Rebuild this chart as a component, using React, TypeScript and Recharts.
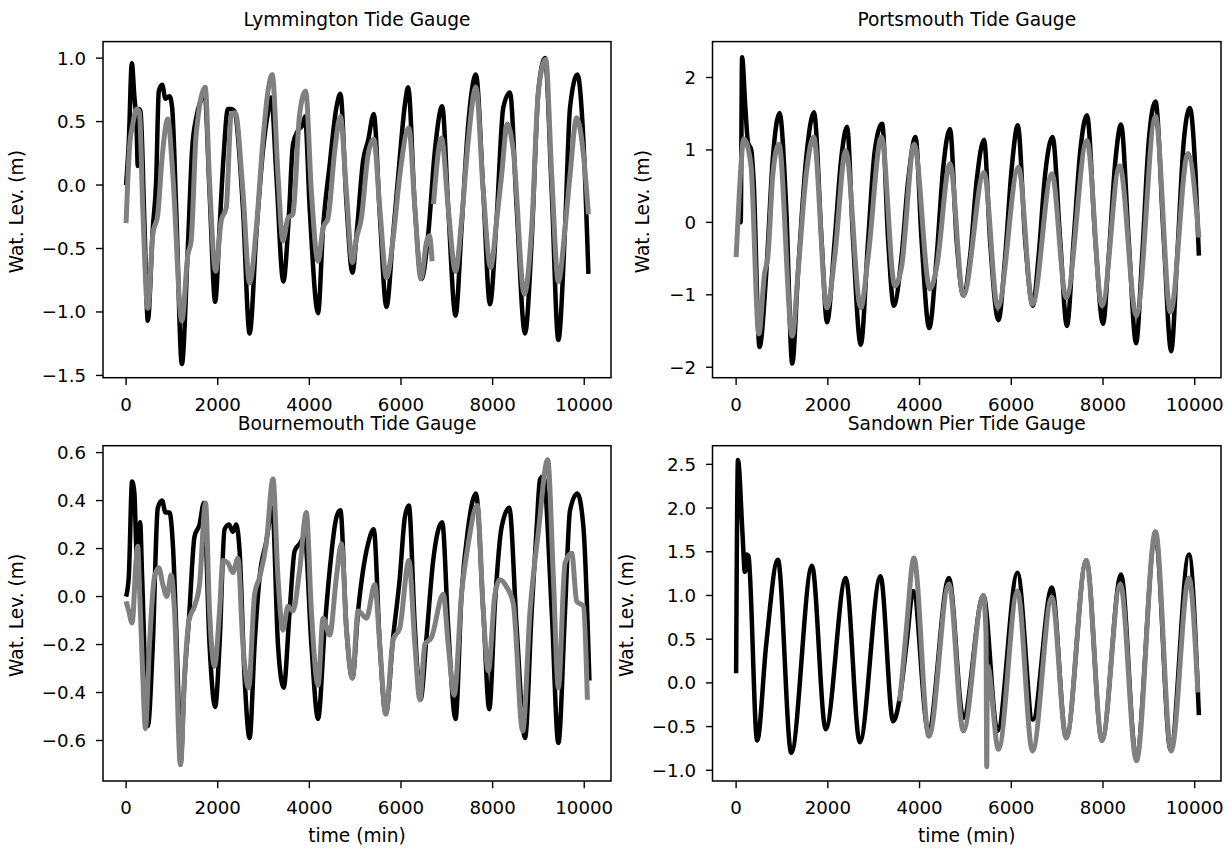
import React from 'react';
import { LineChart, Line, XAxis, YAxis } from 'recharts';

// [time (min), water level (m)] pairs; null = gap in the record
type Pt = [number, number | null];

const X_TICKS = [0, 2000, 4000, 6000, 8000, 10000];
const X_DOMAIN: [number, number] = [-504, 10584];

const TITLES = [
  'Lymmington Tide Gauge',
  'Portsmouth Tide Gauge',
  'Bournemouth Tide Gauge',
  'Sandown Pier Tide Gauge',
];

const LYM_TICKS = [-1.5, -1.0, -0.5, 0, 0.5, 1.0];
const PORT_TICKS = [-2, -1, 0, 1, 2];
const BOURNE_TICKS = [-0.6, -0.4, -0.2, 0, 0.2, 0.4, 0.6];
const SAND_TICKS = [-1.0, -0.5, 0, 0.5, 1.0, 1.5, 2.0, 2.5];

const lymBlack: Pt[] = [
  [0, 0.0], [60, 0.35], [125, 0.96], [180, 0.7], [230, 0.45], [255, 0.15], [280, 0.6], [315, 0.58],
  [400, -0.3], [474, -1.07], [583, -0.34], [656, 0.03], [714, 0.74], [787, 0.79], [860, 0.68],
  [947, 0.7], [1005, 0.61], [1093, -0.18], [1217, -1.41], [1348, -0.49], [1443, 0.29], [1530, 0.53],
  [1654, 0.69], [1712, 0.74], [1821, -0.05], [1945, -0.92], [2040, -0.34], [2127, 0.22], [2222, 0.6],
  [2295, 0.6], [2368, 0.58], [2550, -0.18], [2696, -1.17], [2842, -0.39], [2987, 0.27], [3097, 0.57],
  [3169, 0.69], [3279, 0.08], [3432, -0.76], [3555, -0.23], [3642, 0.32], [3752, 0.43], [3861, 0.48],
  [3905, 0.54], [4007, -0.18], [4190, -1.01], [4299, -0.34], [4444, 0.16], [4590, 0.61], [4677, 0.72],
  [4808, -0.13], [4940, -0.69], [5042, -0.34], [5173, 0.19], [5282, 0.35], [5406, 0.56], [5537, -0.23],
  [5683, -0.96], [5829, -0.39], [5975, 0.22], [6084, 0.63], [6157, 0.77], [6303, -0.18], [6448, -0.74],
  [6594, -0.39], [6740, 0.27], [6900, 0.62], [7031, -0.18], [7191, -1.03], [7322, -0.34], [7468, 0.48],
  [7636, 0.87], [7796, -0.05], [7942, -0.94], [8088, -0.26], [8233, 0.61], [8379, 0.73], [8525, -0.18],
  [8707, -1.17], [8853, -0.44], [8999, 0.74], [9144, 1.0], [9290, -0.05], [9435, -1.22], [9581, -0.34],
  [9690, 0.61], [9851, 0.87], [9982, 0.35], [10091, -0.7],
];

const lymGrey: Pt[] = [
  [0, -0.3], [73, 0.29], [146, 0.48], [233, 0.6], [291, 0.57], [364, -0.18], [474, -0.97], [583, -0.39],
  [692, -0.23], [787, 0.22], [911, 0.52], [1020, 0.08], [1217, -1.07], [1348, -0.55], [1420, -0.44],
  [1530, 0.4], [1727, 0.77], [1821, 0.03], [1953, -0.68], [2077, -0.28], [2186, -0.18], [2295, 0.56],
  [2383, 0.57], [2550, -0.05], [2696, -0.77], [2842, -0.34], [2987, 0.35], [3097, 0.74], [3191, 0.87],
  [3315, 0.08], [3424, -0.44], [3533, -0.26], [3642, -0.23], [3788, 0.56], [3920, 0.74], [4044, -0.05],
  [4190, -0.6], [4299, -0.34], [4408, -0.26], [4554, 0.27], [4677, 0.54], [4808, -0.05], [4940, -0.61],
  [5027, -0.42], [5136, -0.26], [5282, 0.24], [5406, 0.36], [5537, -0.18], [5683, -0.73], [5829, -0.42],
  [5975, 0.08], [6171, 0.45], [6303, -0.18], [6434, -0.74], [6557, -0.45], [6620, -0.4], [6680, -0.6],
  [6695, null], [6710, -0.15], [6885, 0.37], [7031, -0.18], [7191, -0.68], [7322, -0.28], [7468, 0.35],
  [7636, 0.77], [7796, -0.05], [7957, -0.65], [8088, -0.28], [8197, 0.08], [8321, 0.48], [8452, 0.27],
  [8692, -0.86], [8853, -0.34], [8999, 0.74], [9159, 0.99], [9290, 0.08], [9435, -0.76], [9581, -0.34],
  [9690, 0.08], [9836, 0.53], [9982, 0.24], [10091, -0.23],
];

const portBlack: Pt[] = [
  [0, 0.0], [100, 0.0], [130, 2.28], [200, 1.6], [260, 1.1], [330, 1.0], [380, 0.6], [510, -1.72],
  [656, -0.71], [802, 0.9], [947, 1.51], [1093, 0.2], [1224, -1.95], [1348, -0.71], [1530, 0.9],
  [1698, 1.52], [1864, -0.25], [1982, -1.38], [2149, -0.25], [2295, 0.9], [2419, 1.32], [2550, -0.25],
  [2718, -1.69], [2878, -0.25], [3024, 0.99], [3184, 1.36], [3315, -0.25], [3439, -1.15], [3606, -0.48],
  [3752, 0.58], [3912, 1.18], [4044, -0.25], [4211, -1.46], [4372, -0.48], [4517, 0.76], [4663, 1.29],
  [4808, -0.25], [4954, -1.01], [5100, -0.48], [5246, 0.58], [5406, 1.14], [5537, -0.25], [5720, -1.35],
  [5866, -0.48], [6011, 0.76], [6142, 1.34], [6303, -0.25], [6470, -1.15], [6594, -0.48], [6740, 0.67],
  [6900, 1.18], [7067, -0.25], [7213, -1.43], [7359, -0.25], [7505, 0.99], [7650, 1.48], [7833, -0.25],
  [8000, -1.4], [8124, -0.48], [8270, 0.85], [8393, 1.35], [8561, -0.25], [8721, -1.67], [8853, -0.48],
  [8999, 1.13], [9144, 1.67], [9326, -0.25], [9487, -1.78], [9617, -0.48], [9763, 1.13], [9894, 1.58],
  [10018, 0.67], [10091, -0.46],
];

const portGrey: Pt[] = [
  [0, -0.48], [73, 0.44], [168, 1.15], [255, 1.04], [328, 0.76], [495, -1.54], [619, -0.71], [692, -0.48],
  [802, 0.67], [933, 1.08], [1224, -1.57], [1348, -0.71], [1530, 0.67], [1690, 1.18], [1982, -1.18],
  [2149, -0.48], [2390, 0.99], [2718, -1.18], [2878, -0.48], [3170, 1.18], [3461, -0.88], [3606, -0.62],
  [3883, 1.08], [4226, -0.92], [4372, -0.62], [4663, 0.81], [4954, -1.01], [5406, 0.69], [5705, -1.17],
  [6157, 0.76], [6463, -1.13], [6885, 0.67], [7198, -1.04], [7650, 1.13], [7978, -1.15], [8364, 0.78],
  [8729, -1.29], [9144, 1.46], [9472, -1.24], [9851, 0.95], [10091, -0.21],
];

const bourneBlack: Pt[] = [
  [0, 0.0], [58, 0.08], [131, 0.48], [182, 0.43], [219, 0.22], [255, 0.14], [306, 0.31], [350, 0.08],
  [474, -0.54], [583, -0.2], [692, 0.37], [787, 0.4], [860, 0.35], [947, 0.35], [1020, 0.22],
  [1129, -0.34], [1188, -0.7], [1275, -0.34], [1370, -0.1], [1494, 0.25], [1603, 0.3], [1698, 0.39],
  [1821, -0.2], [1945, -0.46], [2040, -0.2], [2149, 0.28], [2244, 0.3], [2332, 0.27], [2404, 0.3],
  [2477, 0.19], [2587, -0.34], [2696, -0.59], [2805, -0.2], [2914, 0.08], [3060, 0.23], [3191, 0.37],
  [3315, -0.2], [3439, -0.38], [3570, -0.06], [3679, 0.19], [3789, 0.22], [3898, 0.25], [4044, -0.2],
  [4190, -0.51], [4335, -0.13], [4444, 0.11], [4590, 0.33], [4677, 0.36], [4808, -0.13], [4940, -0.34],
  [5064, -0.06], [5173, 0.11], [5282, 0.22], [5406, 0.28], [5537, -0.2], [5668, -0.49], [5829, -0.17],
  [5975, 0.08], [6084, 0.33], [6171, 0.38], [6303, -0.13], [6426, -0.43], [6557, -0.17], [6703, 0.15],
  [6900, 0.31], [7031, -0.13], [7191, -0.51], [7322, 0.01], [7468, 0.29], [7636, 0.43], [7796, -0.06],
  [7927, -0.47], [8051, -0.03], [8197, 0.29], [8364, 0.37], [8525, -0.13], [8707, -0.59], [8853, -0.06],
  [8962, 0.29], [9035, 0.49], [9108, 0.5], [9290, -0.06], [9435, -0.61], [9581, -0.06], [9690, 0.36],
  [9851, 0.43], [9982, 0.29], [10113, -0.35],
];

const bourneGrey: Pt[] = [
  [0, -0.02], [58, -0.06], [131, -0.11], [219, 0.15], [255, 0.21], [291, 0.05], [364, -0.33],
  [423, -0.55], [510, -0.2], [619, 0.08], [714, 0.12], [802, 0.05], [889, 0.0], [984, 0.09],
  [1057, -0.06], [1188, -0.7], [1275, -0.34], [1370, -0.1], [1494, -0.04], [1603, 0.05], [1734, 0.39],
  [1821, -0.06], [1931, -0.29], [2040, -0.06], [2113, 0.15], [2222, 0.14], [2332, 0.1], [2441, 0.16],
  [2550, -0.2], [2674, -0.38], [2805, 0.01], [2914, 0.08], [3060, 0.22], [3206, 0.49], [3315, 0.08],
  [3424, -0.14], [3533, -0.04], [3642, -0.06], [3788, 0.11], [3934, 0.35], [4044, -0.06], [4190, -0.37],
  [4299, -0.09], [4444, -0.16], [4590, 0.08], [4700, 0.22], [4808, -0.13], [4940, -0.34], [5064, -0.06],
  [5246, -0.09], [5428, 0.05], [5537, -0.2], [5668, -0.49], [5829, -0.18], [5975, -0.13], [6171, 0.15],
  [6303, -0.2], [6412, -0.43], [6521, -0.2], [6667, -0.17], [6922, 0.01], [7031, -0.2], [7162, -0.41],
  [7322, 0.01], [7468, 0.22], [7665, 0.38], [7796, -0.06], [7905, -0.31], [8051, 0.01], [8160, 0.07],
  [8306, 0.04], [8452, -0.03], [8656, -0.56], [8817, -0.06], [8999, 0.27], [9202, 0.57], [9326, 0.08],
  [9435, -0.38], [9581, 0.14], [9727, 0.18], [9836, -0.02], [9982, -0.04], [10069, -0.43],
];

const sandBlack: Pt[] = [
  [0, 0.11], [40, 2.55], [140, 1.7], [190, 1.27], [215, 1.3], [235, 1.47], [270, 1.45], [459, -0.66],
  [656, 0.44], [911, 1.41], [1202, -0.8], [1654, 1.34], [1953, -0.53], [2390, 1.2], [2696, -0.68],
  [3148, 1.22], [3424, -0.44], [3570, -0.17], [3715, 0.44], [3862, 1.05], [4190, -0.55], [4641, 1.2],
  [4954, -0.4], [5392, 1.0], [5698, -0.55], [6135, 1.26], [6470, -0.42], [6885, 1.09], [7198, -0.63],
  [7636, 1.4], [7978, -0.66], [8393, 1.24], [8721, -0.84], [9144, 1.68], [9472, -0.76], [9873, 1.47],
  [10091, -0.37],
];

const sandGrey: Pt[] = [
  [3570, -0.21], [3715, 0.63], [3876, 1.43], [4204, -0.61], [4641, 1.13], [4954, -0.55], [5392, 1.0],
  [5450, 0.55], [5465, -0.96], [5480, 0.2], [5720, -0.76], [6135, 1.05], [6463, -0.78], [6885, 0.98],
  [7198, -0.63], [7636, 1.4], [7978, -0.66], [8379, 1.13], [8729, -0.89], [9144, 1.73], [9487, -0.78],
  [9873, 1.2], [10069, -0.11],
];

const FONT = 'DejaVu Sans';

interface Frame { x: number; y: number; w: number; h: number }

interface PanelProps {
  frame: Frame;
  black: Pt[];
  grey: Pt[];
  ticks: number[];
  domain: [number, number];
  decimals: number;
}

const rows = (pts: Pt[]) => pts.map(([t, v]) => ({ t, v }));
const minus = (s: string) => s.replace('-', '\u2212');

const Panel: React.FC<PanelProps> = ({ frame, black, grey, ticks, domain, decimals }) => {
  const tickStyle = { fill: '#000', fontSize: 18.2, fontFamily: FONT };
  const tickLine = { stroke: '#000', strokeWidth: 1.4 };
  return (
    <div style={{ position: 'absolute', left: frame.x - 100, top: frame.y - 10 }}>
      <LineChart
        width={frame.w + 110}
        height={frame.h + 60}
        margin={{ top: 10, right: 10, bottom: 0, left: 0 }}
      >
        <XAxis
          dataKey="t"
          type="number"
          domain={X_DOMAIN}
          ticks={X_TICKS}
          interval={0}
          allowDataOverflow
          axisLine={false}
          tickLine={tickLine}
          tickSize={7}
          tickMargin={13}
          tick={tickStyle}
          height={50}
        />
        <YAxis
          type="number"
          domain={domain}
          ticks={ticks}
          interval={0}
          allowDataOverflow
          axisLine={false}
          tickLine={tickLine}
          tickSize={7}
          tickMargin={10}
          tick={tickStyle}
          tickFormatter={(v: number) => minus(v.toFixed(decimals))}
          width={100}
        />
        <Line
          data={rows(black)}
          dataKey="v"
          type="monotone"
          stroke="#000"
          strokeWidth={4.5}
          strokeLinejoin="round"
          dot={false}
          isAnimationActive={false}
        />
        <Line
          data={rows(grey)}
          dataKey="v"
          type="monotone"
          stroke="#808080"
          strokeWidth={5}
          strokeLinejoin="round"
          dot={false}
          isAnimationActive={false}
        />
      </LineChart>
    </div>
  );
};

const FRAMES: Frame[] = [
  { x: 103, y: 41.6, w: 508, h: 336.1 },
  { x: 712.5, y: 41.6, w: 508.5, h: 336.1 },
  { x: 103, y: 445.7, w: 508, h: 335.3 },
  { x: 712.5, y: 445.7, w: 508.5, h: 335.3 },
];

const YLABEL_X = [22.7, 649.4, 22.7, 632.7];

export default function App() {
  return (
    <div style={{ position: 'absolute', left: 0, top: 0, width: 1231, height: 850, background: '#fff' }}>
      <Panel frame={FRAMES[0]} black={lymBlack} grey={lymGrey} ticks={LYM_TICKS} domain={[-1.521, 1.127]} decimals={1} />
      <Panel frame={FRAMES[1]} black={portBlack} grey={portGrey} ticks={PORT_TICKS} domain={[-2.15, 2.49]} decimals={0} />
      <Panel frame={FRAMES[2]} black={bourneBlack} grey={bourneGrey} ticks={BOURNE_TICKS} domain={[-0.77, 0.6275]} decimals={1} />
      <Panel frame={FRAMES[3]} black={sandBlack} grey={sandGrey} ticks={SAND_TICKS} domain={[-1.126, 2.71]} decimals={1} />
      <svg
        width={1231}
        height={850}
        style={{ position: 'absolute', left: 0, top: 0, pointerEvents: 'none' }}
        fontFamily={FONT}
        fontSize={18.6}
      >
        {FRAMES.map((f, i) => (
          <g key={i}>
            <rect x={f.x} y={f.y} width={f.w} height={f.h} fill="none" stroke="#000" strokeWidth={1.5} />
            <text x={f.x + f.w / 2} y={f.y - 15.4} textAnchor="middle" fill="#000">
              {TITLES[i]}
            </text>
            <text
              x={YLABEL_X[i]}
              y={f.y + f.h / 2 + 2}
              textAnchor="middle"
              fill="#000"
              transform={`rotate(-90 ${YLABEL_X[i]} ${f.y + f.h / 2 + 2})`}
            >
              Wat. Lev. (m)
            </text>
            {i >= 2 && (
              <text x={f.x + f.w / 2} y={842} textAnchor="middle" fill="#000">
                time (min)
              </text>
            )}
          </g>
        ))}
      </svg>
    </div>
  );
}
